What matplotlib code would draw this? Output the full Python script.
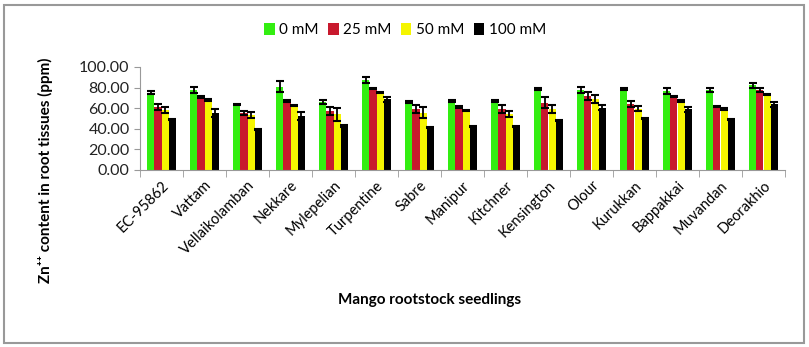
import matplotlib.pyplot as plt
import matplotlib.patches as patches
import numpy as np

plt.rcParams['font.family'] = ['Lato', 'DejaVu Sans']

cultivars = ['EC-95862', 'Vattam', 'Vellaikolamban', 'Nekkare', 'Mylepelian',
             'Turpentine', 'Sabre', 'Manipur', 'Kitchner', 'Kensington',
             'Olour', 'Kurukkan', 'Bappakkai', 'Muvandan', 'Deorakhio']
series_names = ['0 mM', '25 mM', '50 mM', '100 mM']

zn_0 = [75.0, 77.7, 63.8, 81.0, 66.0, 87.4, 66.3, 67.0, 67.0, 78.3, 77.7, 78.3, 76.7, 77.7, 82.2]
zn_25 = [61.5, 71.0, 55.7, 67.0, 57.0, 79.3, 59.0, 61.5, 59.0, 65.4, 71.8, 64.4, 71.2, 62.0, 77.7]
zn_50 = [58.0, 67.6, 53.0, 63.0, 54.0, 75.0, 55.7, 57.3, 54.0, 59.0, 68.6, 59.5, 67.0, 59.0, 73.5]
zn_100 = [49.0, 55.7, 39.5, 52.4, 42.7, 68.6, 41.0, 42.0, 42.7, 48.2, 60.5, 49.8, 59.0, 49.0, 63.8]

err_0 = [1.5, 3.0, 0.5, 5.0, 1.5, 2.5, 1.0, 1.0, 1.0, 1.0, 3.0, 1.0, 3.0, 1.5, 2.5]
err_25 = [3.0, 1.0, 2.0, 1.0, 4.0, 0.5, 4.0, 1.0, 4.0, 5.0, 4.0, 3.0, 0.5, 0.5, 1.5]
err_50 = [3.0, 1.0, 3.0, 0.5, 6.0, 0.5, 5.0, 0.5, 3.0, 4.0, 4.0, 2.5, 0.5, 1.0, 0.5]
err_100 = [0.5, 4.0, 0.5, 4.0, 1.0, 2.5, 0.5, 0.5, 0.5, 0.5, 2.5, 0.5, 2.5, 0.5, 2.5]

colors = ['#33ee11', '#c8192d', '#f5f500', '#000000']

fig = plt.figure(figsize=(8.09, 3.47), dpi=100)
ax = fig.add_axes([140 / 809, 1 - 170 / 347, 645 / 809, 103 / 347])

x = np.arange(len(cultivars))
w = 0.17
vals = [zn_0, zn_25, zn_50, zn_100]
errs = [err_0, err_25, err_50, err_100]
for i in range(4):
    ax.bar(x + (i - 1.5) * w, vals[i], w, color=colors[i], label=series_names[i],
           yerr=errs[i], capsize=3, error_kw=dict(ecolor='black', elinewidth=1.3, capthick=1.5))

ax.set_xlim(-0.5, len(cultivars) - 0.5)
ax.set_ylim(0, 100)
ax.set_yticks(np.arange(0, 101, 20))
ax.set_yticklabels(['%.2f' % v for v in np.arange(0, 101, 20)], fontsize=11.5, color='#222222')
ax.set_xticks(x)
ax.set_xticklabels(cultivars, rotation=45, ha='right', rotation_mode='anchor', fontsize=10.5)
ax.tick_params(axis='x', length=0, pad=6)
ax.set_xticks(np.arange(-0.5, len(cultivars), 1), minor=True)
ax.tick_params(axis='x', which='minor', length=5, color='#999999')
ax.tick_params(axis='y', length=4, color='#999999')
for s in ['top', 'right']:
    ax.spines[s].set_visible(False)
for s in ['left', 'bottom']:
    ax.spines[s].set_color('#999999')

fig.text(45 / 809, 1 - 170 / 347, 'Zn\u207a\u207a content in root tissues (ppm)', rotation=90,
         ha='center', va='center', fontsize=11, fontweight='bold')
fig.text(430 / 809, 1 - 300 / 347, 'Mango rootstock seedlings', ha='center', va='center',
         fontsize=11, fontweight='bold')

fig.legend(loc='center', bbox_to_anchor=(405 / 809, 1 - 30 / 347), ncol=4, frameon=False,
           fontsize=11, handlelength=0.7, handleheight=0.9, handletextpad=0.3, columnspacing=0.6)

fig.patches.append(patches.Rectangle((4 / 809, 4 / 347), 800 / 809, 338 / 347,
                                     transform=fig.transFigure, fill=False,
                                     edgecolor='#999999', linewidth=1.5))

fig.savefig('out.png', dpi=100)
